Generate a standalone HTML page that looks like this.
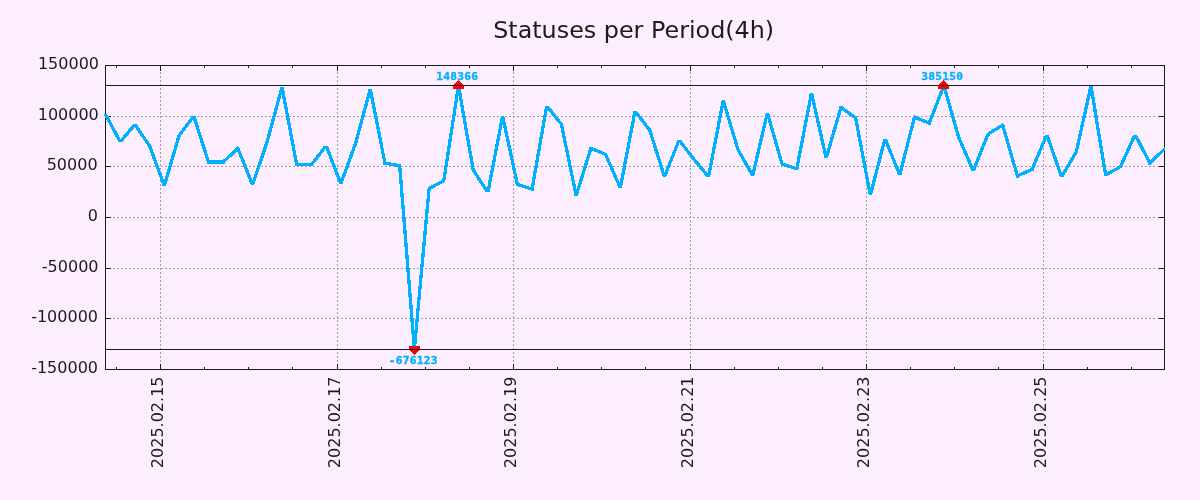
<!DOCTYPE html><html><head><meta charset="utf-8"><title>Statuses per Period(4h)</title>
<style>html,body{margin:0;padding:0;background:#fceefe;}body{width:1200px;height:500px;overflow:hidden;}svg{display:block;font-family:"DejaVu Sans","Liberation Sans",sans-serif;}</style></head><body>
<svg width="1200" height="500" viewBox="0 0 1200 500">
<rect x="0" y="0" width="1200" height="500" fill="#fceefe"/>
<g stroke="#a0a0a0" stroke-width="1" stroke-dasharray="2,2" fill="none" shape-rendering="crispEdges">
<line x1="105.00" y1="116.50" x2="1164.50" y2="116.50"/>
<line x1="105.00" y1="166.50" x2="1164.50" y2="166.50"/>
<line x1="105.00" y1="217.50" x2="1164.50" y2="217.50"/>
<line x1="105.00" y1="268.50" x2="1164.50" y2="268.50"/>
<line x1="105.00" y1="318.50" x2="1164.50" y2="318.50"/>
<line x1="160.50" y1="370.00" x2="160.50" y2="65.50"/>
<line x1="337.50" y1="370.00" x2="337.50" y2="65.50"/>
<line x1="513.50" y1="370.00" x2="513.50" y2="65.50"/>
<line x1="690.50" y1="370.00" x2="690.50" y2="65.50"/>
<line x1="866.50" y1="370.00" x2="866.50" y2="65.50"/>
<line x1="1043.50" y1="370.00" x2="1043.50" y2="65.50"/>
</g>
<g stroke="#1b1b1b" stroke-width="1" fill="none" shape-rendering="crispEdges">
<line x1="105.50" y1="116.50" x2="111.00" y2="116.50"/>
<line x1="1164.50" y1="116.50" x2="1159.00" y2="116.50"/>
<line x1="105.50" y1="166.50" x2="111.00" y2="166.50"/>
<line x1="1164.50" y1="166.50" x2="1159.00" y2="166.50"/>
<line x1="105.50" y1="217.50" x2="111.00" y2="217.50"/>
<line x1="1164.50" y1="217.50" x2="1159.00" y2="217.50"/>
<line x1="105.50" y1="268.50" x2="111.00" y2="268.50"/>
<line x1="1164.50" y1="268.50" x2="1159.00" y2="268.50"/>
<line x1="105.50" y1="318.50" x2="111.00" y2="318.50"/>
<line x1="1164.50" y1="318.50" x2="1159.00" y2="318.50"/>
<line x1="160.50" y1="369.50" x2="160.50" y2="364.00"/>
<line x1="160.50" y1="65.50" x2="160.50" y2="71.00"/>
<line x1="337.50" y1="369.50" x2="337.50" y2="364.00"/>
<line x1="337.50" y1="65.50" x2="337.50" y2="71.00"/>
<line x1="513.50" y1="369.50" x2="513.50" y2="364.00"/>
<line x1="513.50" y1="65.50" x2="513.50" y2="71.00"/>
<line x1="690.50" y1="369.50" x2="690.50" y2="364.00"/>
<line x1="690.50" y1="65.50" x2="690.50" y2="71.00"/>
<line x1="866.50" y1="369.50" x2="866.50" y2="364.00"/>
<line x1="866.50" y1="65.50" x2="866.50" y2="71.00"/>
<line x1="1043.50" y1="369.50" x2="1043.50" y2="364.00"/>
<line x1="1043.50" y1="65.50" x2="1043.50" y2="71.00"/>
<line x1="116.50" y1="369.50" x2="116.50" y2="367.00"/>
<line x1="116.50" y1="65.50" x2="116.50" y2="68.00"/>
<line x1="204.50" y1="369.50" x2="204.50" y2="367.00"/>
<line x1="204.50" y1="65.50" x2="204.50" y2="68.00"/>
<line x1="248.50" y1="369.50" x2="248.50" y2="367.00"/>
<line x1="248.50" y1="65.50" x2="248.50" y2="68.00"/>
<line x1="292.50" y1="369.50" x2="292.50" y2="367.00"/>
<line x1="292.50" y1="65.50" x2="292.50" y2="68.00"/>
<line x1="381.50" y1="369.50" x2="381.50" y2="367.00"/>
<line x1="381.50" y1="65.50" x2="381.50" y2="68.00"/>
<line x1="425.50" y1="369.50" x2="425.50" y2="367.00"/>
<line x1="425.50" y1="65.50" x2="425.50" y2="68.00"/>
<line x1="469.50" y1="369.50" x2="469.50" y2="367.00"/>
<line x1="469.50" y1="65.50" x2="469.50" y2="68.00"/>
<line x1="557.50" y1="369.50" x2="557.50" y2="367.00"/>
<line x1="557.50" y1="65.50" x2="557.50" y2="68.00"/>
<line x1="601.50" y1="369.50" x2="601.50" y2="367.00"/>
<line x1="601.50" y1="65.50" x2="601.50" y2="68.00"/>
<line x1="645.50" y1="369.50" x2="645.50" y2="367.00"/>
<line x1="645.50" y1="65.50" x2="645.50" y2="68.00"/>
<line x1="734.50" y1="369.50" x2="734.50" y2="367.00"/>
<line x1="734.50" y1="65.50" x2="734.50" y2="68.00"/>
<line x1="778.50" y1="369.50" x2="778.50" y2="367.00"/>
<line x1="778.50" y1="65.50" x2="778.50" y2="68.00"/>
<line x1="822.50" y1="369.50" x2="822.50" y2="367.00"/>
<line x1="822.50" y1="65.50" x2="822.50" y2="68.00"/>
<line x1="910.50" y1="369.50" x2="910.50" y2="367.00"/>
<line x1="910.50" y1="65.50" x2="910.50" y2="68.00"/>
<line x1="954.50" y1="369.50" x2="954.50" y2="367.00"/>
<line x1="954.50" y1="65.50" x2="954.50" y2="68.00"/>
<line x1="998.50" y1="369.50" x2="998.50" y2="367.00"/>
<line x1="998.50" y1="65.50" x2="998.50" y2="68.00"/>
<line x1="1087.50" y1="369.50" x2="1087.50" y2="367.00"/>
<line x1="1087.50" y1="65.50" x2="1087.50" y2="68.00"/>
<line x1="1131.50" y1="369.50" x2="1131.50" y2="367.00"/>
<line x1="1131.50" y1="65.50" x2="1131.50" y2="68.00"/>
</g>
<rect x="105.50" y="65.50" width="1059.00" height="304.00" fill="none" stroke="#1b1b1b" stroke-width="1" shape-rendering="crispEdges"/>
<g fill="#00b0ff" stroke="none" shape-rendering="crispEdges">
<polygon points="103.63,114.30 107.37,114.30 122.08,141.90 118.34,141.90"/>
<polygon points="118.05,141.90 122.36,141.90 137.07,124.40 132.76,124.40"/>
<polygon points="132.92,124.40 136.91,124.40 151.62,146.00 147.63,146.00"/>
<polygon points="147.87,146.00 151.38,146.00 166.09,185.70 162.57,185.70"/>
<polygon points="162.61,185.70 166.05,185.70 180.76,135.70 177.32,135.70"/>
<polygon points="176.98,135.70 181.10,135.70 195.81,116.00 191.69,116.00"/>
<polygon points="192.02,116.00 195.48,116.00 210.19,162.00 206.73,162.00"/>
<polygon points="208.46,160.35 208.46,163.65 223.17,163.65 223.17,160.35"/>
<polygon points="223.17,159.75 223.17,164.25 237.88,150.65 237.88,146.15"/>
<polygon points="236.10,148.40 239.65,148.40 254.36,184.90 250.80,184.90"/>
<polygon points="250.84,184.90 254.32,184.90 269.03,141.20 265.55,141.20"/>
<polygon points="265.58,141.20 269.00,141.20 283.71,87.00 280.29,87.00"/>
<polygon points="280.32,87.00 283.68,87.00 298.39,164.70 295.03,164.70"/>
<polygon points="296.71,163.05 296.71,166.35 311.42,166.35 311.42,163.05"/>
<polygon points="309.33,164.70 313.50,164.70 328.21,145.70 324.04,145.70"/>
<polygon points="324.36,145.70 327.89,145.70 342.60,183.70 339.06,183.70"/>
<polygon points="339.08,183.70 342.59,183.70 357.30,143.60 353.78,143.60"/>
<polygon points="353.83,143.60 357.25,143.60 371.96,89.10 368.54,89.10"/>
<polygon points="368.57,89.10 371.93,89.10 386.64,163.30 383.28,163.30"/>
<polygon points="384.96,161.63 384.96,164.97 399.67,167.17 399.67,163.83"/>
<polygon points="398.01,165.50 401.32,165.50 416.03,349.23 412.72,349.23"/>
<polygon points="412.72,349.23 416.03,349.23 430.74,188.50 427.43,188.50"/>
<polygon points="429.08,186.64 429.08,190.36 443.79,182.66 443.79,178.94"/>
<polygon points="442.12,180.80 445.46,180.80 460.17,85.77 456.83,85.77"/>
<polygon points="456.83,85.77 460.17,85.77 474.88,170.00 471.53,170.00"/>
<polygon points="471.23,170.00 475.18,170.00 489.89,192.30 485.94,192.30"/>
<polygon points="486.24,192.30 489.60,192.30 504.31,116.00 500.94,116.00"/>
<polygon points="500.94,116.00 504.31,116.00 519.02,184.40 515.65,184.40"/>
<polygon points="517.33,182.66 517.33,186.14 532.04,190.94 532.04,187.46"/>
<polygon points="530.37,189.20 533.72,189.20 548.43,105.90 545.07,105.90"/>
<polygon points="544.64,105.90 548.86,105.90 563.57,124.40 559.35,124.40"/>
<polygon points="559.77,124.40 563.14,124.40 577.85,195.70 574.48,195.70"/>
<polygon points="574.44,195.70 577.89,195.70 592.60,148.30 589.15,148.30"/>
<polygon points="590.88,146.51 590.88,150.09 605.58,156.19 605.58,152.61"/>
<polygon points="603.78,154.40 607.38,154.40 622.09,188.00 618.49,188.00"/>
<polygon points="618.61,188.00 621.97,188.00 636.68,111.20 633.32,111.20"/>
<polygon points="632.91,111.20 637.09,111.20 651.80,130.00 647.61,130.00"/>
<polygon points="647.98,130.00 651.44,130.00 666.15,176.80 662.69,176.80"/>
<polygon points="662.64,176.80 666.19,176.80 680.90,140.00 677.35,140.00"/>
<polygon points="677.05,140.00 681.20,140.00 695.91,159.20 691.75,159.20"/>
<polygon points="691.68,159.20 695.98,159.20 710.69,176.80 706.39,176.80"/>
<polygon points="706.86,176.80 710.22,176.80 724.93,100.40 721.57,100.40"/>
<polygon points="721.53,100.40 724.97,100.40 739.68,149.60 736.24,149.60"/>
<polygon points="736.06,149.60 739.85,149.60 754.56,175.60 750.77,175.60"/>
<polygon points="750.97,175.60 754.36,175.60 769.07,112.80 765.68,112.80"/>
<polygon points="765.66,112.80 769.09,112.80 783.80,164.00 780.37,164.00"/>
<polygon points="782.08,162.26 782.08,165.74 796.79,170.54 796.79,167.06"/>
<polygon points="795.11,168.80 798.47,168.80 813.18,92.90 809.82,92.90"/>
<polygon points="809.81,92.90 813.19,92.90 827.90,158.30 824.52,158.30"/>
<polygon points="824.49,158.30 827.93,158.30 842.63,107.30 839.20,107.30"/>
<polygon points="840.92,105.27 840.92,109.33 855.62,119.93 855.62,115.87"/>
<polygon points="853.95,117.90 857.30,117.90 872.01,195.20 868.65,195.20"/>
<polygon points="868.63,195.20 872.04,195.20 886.75,138.50 883.34,138.50"/>
<polygon points="883.26,138.50 886.82,138.50 901.53,174.90 897.97,174.90"/>
<polygon points="898.05,174.90 901.45,174.90 916.16,117.10 912.76,117.10"/>
<polygon points="914.46,115.31 914.46,118.89 929.17,124.99 929.17,121.41"/>
<polygon points="927.39,123.20 930.94,123.20 945.65,85.77 942.10,85.77"/>
<polygon points="942.16,85.77 945.59,85.77 960.30,137.10 956.87,137.10"/>
<polygon points="956.78,137.10 960.38,137.10 975.09,170.80 971.49,170.80"/>
<polygon points="971.51,170.80 975.07,170.80 989.78,134.00 986.22,134.00"/>
<polygon points="988.00,132.08 988.00,135.92 1002.71,127.12 1002.71,123.28"/>
<polygon points="1000.99,125.20 1004.43,125.20 1019.13,176.00 1015.70,176.00"/>
<polygon points="1017.42,174.19 1017.42,177.81 1032.12,171.11 1032.12,167.49"/>
<polygon points="1030.33,169.30 1033.92,169.30 1048.63,134.70 1045.04,134.70"/>
<polygon points="1045.09,134.70 1048.58,134.70 1063.29,176.80 1059.79,176.80"/>
<polygon points="1059.62,176.80 1063.46,176.80 1078.17,152.00 1074.33,152.00"/>
<polygon points="1074.56,152.00 1077.94,152.00 1092.65,86.00 1089.27,86.00"/>
<polygon points="1089.29,86.00 1092.63,86.00 1107.34,174.80 1103.99,174.80"/>
<polygon points="1105.67,172.93 1105.67,176.67 1120.38,168.77 1120.38,165.03"/>
<polygon points="1118.56,166.90 1122.19,166.90 1136.90,134.50 1133.27,134.50"/>
<polygon points="1133.23,134.50 1136.94,134.50 1151.65,163.00 1147.93,163.00"/>
<polygon points="1149.79,160.74 1149.79,165.26 1164.50,151.46 1164.50,146.94"/>
<rect x="206.96" y="160.50" width="3" height="3"/>
<rect x="221.67" y="160.50" width="3" height="3"/>
<rect x="236.38" y="146.90" width="3" height="3"/>
<rect x="295.21" y="163.20" width="3" height="3"/>
<rect x="309.92" y="163.20" width="3" height="3"/>
<rect x="383.46" y="161.80" width="3" height="3"/>
<rect x="398.17" y="164.00" width="3" height="3"/>
<rect x="427.58" y="187.00" width="3" height="3"/>
<rect x="442.29" y="179.30" width="3" height="3"/>
<rect x="515.83" y="182.90" width="3" height="3"/>
<rect x="530.54" y="187.70" width="3" height="3"/>
<rect x="589.38" y="146.80" width="3" height="3"/>
<rect x="604.08" y="152.90" width="3" height="3"/>
<rect x="780.58" y="162.50" width="3" height="3"/>
<rect x="795.29" y="167.30" width="3" height="3"/>
<rect x="839.42" y="105.80" width="3" height="3"/>
<rect x="854.12" y="116.40" width="3" height="3"/>
<rect x="912.96" y="115.60" width="3" height="3"/>
<rect x="927.67" y="121.70" width="3" height="3"/>
<rect x="986.50" y="132.50" width="3" height="3"/>
<rect x="1001.21" y="123.70" width="3" height="3"/>
<rect x="1015.92" y="174.50" width="3" height="3"/>
<rect x="1030.62" y="167.80" width="3" height="3"/>
<rect x="1104.17" y="173.30" width="3" height="3"/>
<rect x="1118.88" y="165.40" width="3" height="3"/>
<rect x="1148.29" y="161.50" width="3" height="3"/>
</g>
<polygon points="458.50,79.70 453.90,85.00 452.80,86.00 452.80,89.00 464.20,89.00 464.20,86.00 463.10,85.00" fill="#f00" shape-rendering="crispEdges"/>
<polygon points="943.50,79.70 938.90,85.00 937.80,86.00 937.80,89.00 949.20,89.00 949.20,86.00 948.10,85.00" fill="#f00" shape-rendering="crispEdges"/>
<polygon points="414.50,355.30 409.90,350.00 408.80,349.00 408.80,346.00 420.20,346.00 420.20,349.00 419.10,350.00" fill="#f00" shape-rendering="crispEdges"/>
<g stroke="#1b1b1b" stroke-width="1" fill="none" shape-rendering="crispEdges">
<line x1="105.50" y1="85.50" x2="1164.50" y2="85.50"/>
<line x1="105.50" y1="349.50" x2="1164.50" y2="349.50"/>
</g>
<g font-family="'DejaVu Sans Mono','Liberation Mono',monospace" font-size="11.2px" letter-spacing="0.26px" font-weight="bold" fill="#00b0ff" stroke="#00b0ff" stroke-width="0.35" text-anchor="middle">
<text x="457.30" y="80.30">148366</text>
<text x="942.30" y="80.30">385150</text>
<text x="413.30" y="363.80">-676123</text>
</g>
<g font-size="16px" fill="#1b1b1b" text-anchor="end">
<text x="99.00" y="68.70">150000</text>
<text x="98.80" y="120.00">100000</text>
<text x="97.60" y="169.60">50000</text>
<text x="98.00" y="220.60">0</text>
<text x="98.50" y="271.60">-50000</text>
<text x="98.00" y="321.60">-100000</text>
<text x="98.00" y="372.50">-150000</text>
</g>
<g font-size="16px" fill="#1b1b1b" text-anchor="end">
<text transform="translate(163.00,376.50) rotate(-90)" textLength="91.7" lengthAdjust="spacingAndGlyphs">2025.02.15</text>
<text transform="translate(340.00,376.50) rotate(-90)" textLength="91.7" lengthAdjust="spacingAndGlyphs">2025.02.17</text>
<text transform="translate(516.00,376.50) rotate(-90)" textLength="91.7" lengthAdjust="spacingAndGlyphs">2025.02.19</text>
<text transform="translate(693.00,376.50) rotate(-90)" textLength="91.7" lengthAdjust="spacingAndGlyphs">2025.02.21</text>
<text transform="translate(869.00,376.50) rotate(-90)" textLength="91.7" lengthAdjust="spacingAndGlyphs">2025.02.23</text>
<text transform="translate(1046.00,376.50) rotate(-90)" textLength="91.7" lengthAdjust="spacingAndGlyphs">2025.02.25</text>
</g>
<text x="633.7" y="37.5" font-size="23.3px" fill="#1b1b1b" text-anchor="middle" textLength="281" lengthAdjust="spacingAndGlyphs">Statuses per Period(4h)</text>
</svg></body></html>
